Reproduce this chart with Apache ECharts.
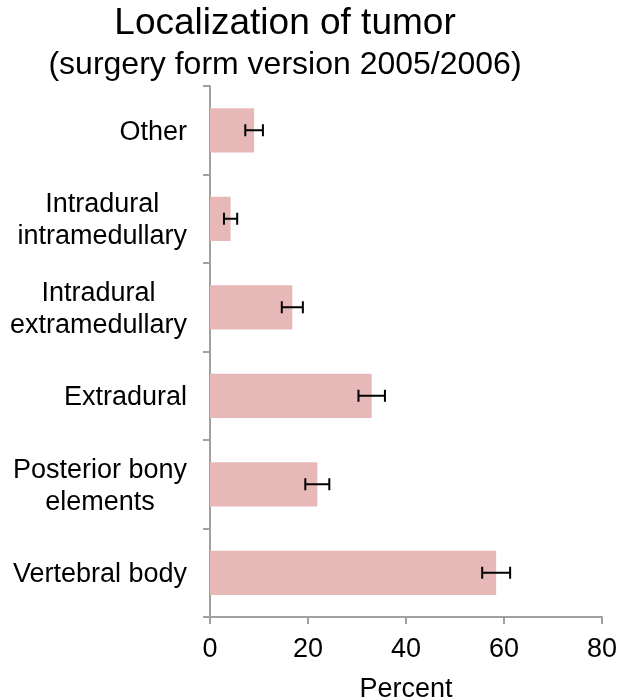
<!DOCTYPE html>
<html>
<head>
<meta charset="utf-8">
<script src="https://cdn.jsdelivr.net/npm/echarts@6/dist/echarts.min.js"></script>
<style>html,body{margin:0;padding:0;background:#fff}#c{width:627px;height:699px}</style>
</head>
<body>
<div id="c"></div>
<script>
// Categories listed bottom to top
var categories = ['Vertebral body', 'Posterior bony\nelements', 'Extradural', 'Intradural\nextramedullary', 'Intradural\nintramedullary', 'Other'];
var percentValues = [58.4, 21.9, 33.0, 16.8, 4.2, 9.0];
var errorValues = [2.85, 2.45, 2.7, 2.15, 1.35, 1.8];
var xTicks = [0, 20, 40, 60, 80];

var FONT = 'Liberation Sans, Arial, sans-serif';
var errData = percentValues.map(function (v, i) { return [v - errorValues[i], v + errorValues[i], i]; });

var chart = echarts.init(document.getElementById('c'));
chart.setOption({
  backgroundColor: '#fff',
  animation: false,
  title: [
    { text: 'Localization of tumor', left: 285, textAlign: 'center', top: 5, padding: 0,
      textStyle: { fontFamily: FONT, fontSize: 37, fontWeight: 'normal', color: '#000' } },
    { text: '(surgery form version 2005/2006)', left: 285, textAlign: 'center', top: 49, padding: 0,
      textStyle: { fontFamily: FONT, fontSize: 32, fontWeight: 'normal', color: '#000' } }
  ],
  grid: { left: 210, right: 25, top: 86, bottom: 82, containLabel: false, outerBoundsMode: 'none' },
  xAxis: {
    type: 'value', min: xTicks[0], max: xTicks[xTicks.length - 1], interval: 20,
    name: 'Percent', nameLocation: 'middle', nameGap: 59,
    nameTextStyle: { fontFamily: FONT, fontSize: 27, color: '#000' },
    axisLine: { show: true, lineStyle: { color: '#a0a0a0', width: 2 } },
    axisTick: { show: true, length: 7, lineStyle: { color: '#a0a0a0', width: 2 } },
    axisLabel: { margin: 19, fontFamily: FONT, fontSize: 27, color: '#000' },
    splitLine: { show: false }
  },
  yAxis: {
    type: 'category', data: categories,
    axisLine: { show: true, lineStyle: { color: '#a0a0a0', width: 2 } },
    axisTick: { show: true, length: 7, lineStyle: { color: '#a0a0a0', width: 2 } },
    axisLabel: {
      margin: 23, fontFamily: FONT, fontSize: 27, color: '#000', lineHeight: 32, padding: [4, 0, 0, 0],
      formatter: function (s) { return s.split('\n').map(function (l) { return '{c|' + l + '}'; }).join('\n'); },
      rich: { c: { align: 'center', fontFamily: FONT, fontSize: 27, color: '#000', lineHeight: 32 } }
    }
  },
  series: [
    { type: 'bar', data: percentValues, barWidth: '50%', itemStyle: { color: '#e6b9b8' }, silent: true },
    { type: 'custom', data: errData, silent: true, z: 5,
      renderItem: function (params, api) {
        var lo = api.coord([api.value(0), api.value(2)]);
        var hi = api.coord([api.value(1), api.value(2)]);
        var h = 6;
        var st = { stroke: '#000', lineWidth: 2 };
        return { type: 'group', children: [
          { type: 'line', shape: { x1: lo[0], y1: lo[1], x2: hi[0], y2: hi[1] }, style: st },
          { type: 'line', shape: { x1: lo[0], y1: lo[1] - h, x2: lo[0], y2: lo[1] + h }, style: st },
          { type: 'line', shape: { x1: hi[0], y1: hi[1] - h, x2: hi[0], y2: hi[1] + h }, style: st }
        ] };
      }
    }
  ]
});
</script>
</body>
</html>
